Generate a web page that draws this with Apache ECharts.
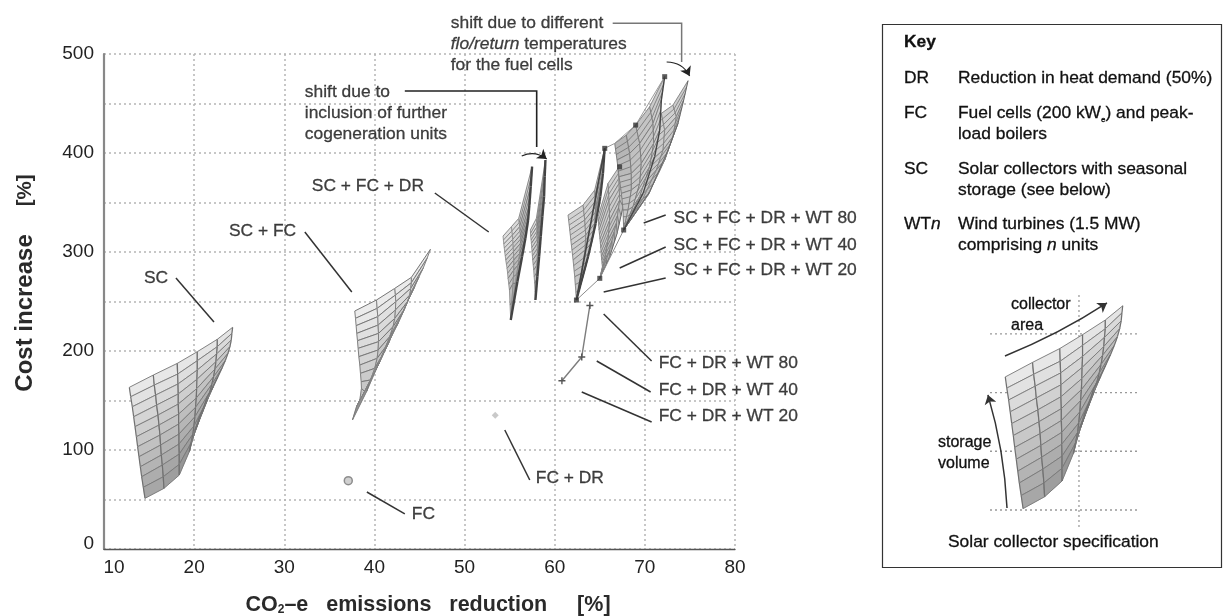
<!DOCTYPE html>
<html><head><meta charset="utf-8">
<style>html,body{margin:0;padding:0;background:#fff}#c{width:1223px;height:616px;filter:blur(0.45px)}</style>
<script src="https://cdn.jsdelivr.net/npm/echarts@6/dist/echarts.min.js"></script>
</head><body><div id="c"></div>
<script>
// Axis ticks
const xTicks = {min:10,max:80,step:10};
const yTicks = {min:0,max:500,step:50};

// Single scenarios
const fcPoint = [[37.1,69]];
const fcDrPoint = [[53.4,135]];
const fcDrWtPoints = [[60.8,170],[63.0,194],[63.9,246]];

// Surfaces: columns of [CO2 reduction, cost increase] nodes
const scSurface = [
 [[12.81,163.3],[12.96,153.8],[13.14,143.7],[13.29,133.6],[13.44,123.6],[13.59,113.4],[13.73,103.3],[13.88,93.2],[14.03,83.1],[14.18,73],[14.36,62.3],[14.55,51.2]],
 [[15.47,175.7],[15.58,165.6],[15.73,155.5],[15.84,145.4],[15.99,135.3],[16.1,125.2],[16.21,115.1],[16.28,105],[16.36,94.9],[16.47,84.8],[16.58,73],[16.65,61.3]],
 [[18.13,187.5],[18.17,176.7],[18.21,166.7],[18.24,156.6],[18.24,146.4],[18.28,136.3],[18.28,126.2],[18.32,116.1],[18.32,106],[18.35,95.9],[18.35,85.5],[18.35,74.7]],
 [[20.35,199.3],[20.35,190.2],[20.35,180.8],[20.31,171.4],[20.28,161.9],[20.24,152.5],[20.16,143.1],[20.09,133.6],[19.98,124.2],[19.87,116.1],[19.68,107.4],[19.46,98.3]],
 [[22.57,211.8],[22.57,204.4],[22.49,197],[22.42,189.2],[22.31,181.8],[22.16,174],[21.98,166.6],[21.75,158.9],[21.46,150.5],[21.01,140.4],[20.57,130.3],[20.13,120.2]],
 [[24.27,223.9],[24.19,217.8],[24.12,211.1],[23.97,204.4],[23.75,197.6],[23.45,190.2],[23.08,182.5],[22.64,174],[22.12,163.9],[21.46,153.8],[21.01,142],[20.46,130.3]]
];
const scFcSurface = [
 [[37.82,240.4],[37.9,233],[37.97,225.6],[38.04,217.8],[38.12,210.4],[38.19,202.7],[38.27,194.3],[38.38,185.8],[38.45,177.4],[38.53,169],[38.56,162.3],[38.38,150.5]],
 [[40.23,251.5],[40.3,243.1],[40.37,234.7],[40.41,226.2],[40.45,217.8],[40.45,209.4],[40.41,201],[40.3,192.6],[40.04,182.5],[39.56,170.7],[38.93,158.9],[38.38,150.5]],
 [[42.26,263.3],[42.33,256.5],[42.37,249.8],[42.33,241.4],[42.26,233],[42.07,224.6],[41.7,214.5],[41.26,204.4],[40.78,194.3],[40.04,179.1],[39.12,162.3],[38.19,147.1]],
 [[44.1,274.4],[44.1,269],[44.03,263.3],[43.92,256.5],[43.66,249.8],[43.26,241.4],[42.81,233],[42.26,222.9],[41.63,209.4],[40.59,189.2],[39.49,169],[38.01,143.7]],
 [[46.21,302.7],[45.84,293.6],[45.4,283.5],[44.96,275.1],[44.47,265],[43.92,254.9],[43.37,243.1],[42.63,227.9],[41.7,211.1],[40.41,185.8],[39.12,158.9],[37.56,130.3]]
];
const scFcDrSurfaceA = [
 [[54.27,316.1],[54.35,308.1],[54.46,300],[54.57,291.9],[54.72,283.5],[54.83,273.4],[54.98,261.6],[55.12,231.3]],
 [[55.2,325.6],[55.31,317.1],[55.38,308.7],[55.42,300.3],[55.46,291.9],[55.46,281.8],[55.38,268.3],[55.12,231.3]],
 [[56.01,334],[56.12,325.6],[56.2,317.1],[56.2,308.7],[56.12,298.6],[55.94,286.8],[55.64,268.3],[55.12,231.3]],
 [[57.49,386.2],[57.34,366],[57.19,347.4],[57.05,332.3],[56.75,313.8],[56.38,295.3],[55.86,270],[55.12,231.3]]
];
const scFcDrSurfaceB = [
 [[57.3,322.2],[57.34,315.5],[57.42,308.7],[57.49,300.3],[57.56,291.9],[57.67,281.8],[57.78,268.3],[57.86,251.5]],
 [[57.97,334],[58.04,325.6],[58.04,317.1],[58.08,308.7],[58.08,298.6],[58.04,286.8],[57.97,271.7],[57.86,251.5]],
 [[58.97,392.9],[58.89,376.1],[58.82,355.9],[58.63,335.7],[58.45,315.5],[58.27,295.3],[58.08,275],[57.86,251.5]]
];
const wt20Surface = [
 [[61.48,337.3],[61.67,322.2],[61.85,307],[62.04,291.9],[62.22,275],[62.41,251.5]],
 [[63.15,347.4],[63.33,332.3],[63.44,317.1],[63.37,302],[62.96,278.4],[62.41,251.5]],
 [[64.44,362.6],[64.55,345.8],[64.44,328.9],[64.07,308.7],[63.33,281.8],[62.41,251.5]],
 [[65.55,404.7],[65.36,379.4],[65.07,355.9],[64.55,328.9],[63.7,295.3],[62.41,251.5]]
];
const wt40Surface = [
 [[64.81,335.6],[64.92,322.2],[65.07,308.7],[65.18,295.3],[65.29,285.1],[65,273.4]],
 [[65.92,369.3],[66.03,352.5],[66.1,332.3],[65.92,312.1],[65.55,291.9],[65,273.4]],
 [[67.03,384.5],[67.14,369.3],[67.21,352.5],[66.84,328.9],[66.1,302],[65,273.4]],
 [[67.21,386.2],[67.65,369.3],[67.58,345.8],[66.92,318.8],[66.1,295.3],[65,273.4]]
];
const wt80SurfaceA = [
 [[66.66,409.7],[66.91,392.9],[67.14,376],[67.4,359.2],[67.58,342.4],[67.65,322.2]],
 [[67.95,418.1],[68.32,399.6],[68.5,379.4],[68.5,362.6],[68.13,342.4],[67.65,322.2]],
 [[68.98,428.2],[69.43,409.7],[69.61,389.5],[69.43,369.3],[68.69,345.8],[67.65,322.2]],
 [[70.54,446.8],[70.91,429.9],[70.98,409.7],[70.54,386.2],[69.43,355.9],[67.65,322.2]],
 [[72.2,477.1],[71.83,453.5],[71.65,423.2],[71.09,396.3],[69.8,359.2],[67.65,322.2]]
];
const wt80SurfaceB = [
 [[67.03,411.4],[67.4,392.9],[67.58,374.4],[67.76,355.9],[67.76,339],[67.65,322.2]],
 [[69.8,424.9],[69.98,406.4],[69.98,386.2],[69.61,366],[68.76,344.1],[67.65,322.2]],
 [[71.83,440],[72.2,423.2],[72.02,403],[71.28,382.8],[69.8,354.2],[67.65,322.2]],
 [[73.12,448.4],[73.49,436.7],[73.12,416.5],[72.2,392.9],[70.35,357.5],[67.65,322.2]],
 [[74.79,473],[74.31,453.5],[73.68,430],[72.57,403],[70.54,360.9],[67.65,322.2]]
];
const wtChainLower = [[62.41,251.5],[65,273.4],[67.65,322.2]];
const wtChainUpper = [[65.55,404.7],[66.66,409.7],[68.98,428.2],[72.2,477.1]];
const wtChainEdge = [[62.41,251.5],[65.55,404.7]];
const wtNodes = [[62.41,251.5],[65,273.4],[67.65,322.2],[65.55,404.7],[68.98,428.2],[72.2,477.1],[67.2,386]];

// Text labels anchored in the plot: [x, y, text]
const plotLabels = [
 [14.43,273.7,'SC'],[23.86,321.2,'SC + FC'],[33.06,366.7,'SC + FC + DR'],[44.15,35.4,'FC'],[57.9,71.7,'FC + DR'],
 [71.53,187.9,'FC + DR + WT 80'],[71.53,160.6,'FC + DR + WT 40'],[71.53,134.3,'FC + DR + WT 20'],
 [73.19,334.3,'SC + FC + DR + WT 80'],[73.19,307.1,'SC + FC + DR + WT 40'],[73.19,281.8,'SC + FC + DR + WT 20'],
 [48.47,510,'shift due to different\n{i|flo/return} temperatures\nfor the fuel cells'],
 [32.28,440.4,'shift due to\ninclusion of further\ncogeneration units']
];
// Leader lines
const leaders = [
 [[17.98,273.7],[22.2,229.3]],[[32.28,320.2],[37.49,259.6]],[[46.7,359.6],[52.68,320.2]],[[39.16,57.6],[43.37,35.4]],
 [[54.46,120.2],[57.23,69.7]],[[65.43,237.4],[70.75,189.9]],[[64.66,189.9],[70.64,158.6]],[[63,158.6],[70.75,128.3]],
 [[69.87,329.3],[72.31,337.4]],[[67.21,283.8],[72.31,305.1]],[[65.43,259.6],[72.31,273.7]]
];
const shiftElbowFlow = [[66.43,531],[74.08,531],[74.08,491.9]];
const shiftElbowCogen = [[43.37,462.6],[58,462.6],[58,406.1]];
const shiftArcs = [[[72.42,491.9],[74.97,477.8]],[[56.34,397],[59.11,393.9]]];

// Key panel
const keyRows = [
 ['DR','Reduction in heat demand (50%)',78],
 ['FC','Fuel cells (200 kW{s|e}) and peak-\nload boilers',124],
 ['SC','Solar collectors with seasonal\nstorage (see below)',180],
 ['WT{i|n}','Wind turbines (1.5 MW)\ncomprising {i|n} units',235]
];
const insetGuideY = [50,100,150,200];
const insetGuideX = [20];
const insetArrows = [[[12.78,181.2],[22.73,226.3]],[[12.98,51.7],[11.12,148]]];

const font = '"Liberation Sans", Arial, sans-serif';
const mid = '#111';
const lab = 17.4;

function cells(cols, tone){
  const out=[];
  for(let c=0;c<cols.length-1;c++){
    for(let r=0;r<cols[c].length-1;r++){
      const a=cols[c][r],b=cols[c+1][r],d=cols[c+1][r+1],e=cols[c][r+1];
      const rf=(r+0.5)/(cols[c].length-1), cf=(c+0.5)/(cols.length-1);
      const g=Math.round(tone.base-tone.row*rf-tone.fold*cf*rf-tone.col*cf);
      out.push([a[0],a[1],b[0],b[1],d[0],d[1],e[0],e[1],g,c,r,cols.length-2,cols[c].length-2]);
    }
  }
  return out;
}
function surface(cols,tone,axis){
  const hatch=tone.hatch||0;
  return {type:'custom',xAxisIndex:axis,yAxisIndex:axis,silent:true,clip:false,z:tone.z||3,
    data:cells(cols,tone),
    encode:{x:0,y:1},
    renderItem:function(params,api){
      const P=[0,2,4,6].map(i=>api.coord([api.value(i),api.value(i+1)]));
      const g=api.value(8),c=api.value(9),lastC=api.value(11);
      const kids=[{type:'polygon',shape:{points:P},style:{fill:`rgb(${g},${g},${g})`,stroke:`rgb(${g},${g},${g})`,lineWidth:.5}}];
      for(let k=1;k<=hatch;k++){
        const t=k/(hatch+1);
        kids.push({type:'line',shape:{x1:P[0][0]+(P[3][0]-P[0][0])*t,y1:P[0][1]+(P[3][1]-P[0][1])*t,x2:P[1][0]+(P[2][0]-P[1][0])*t,y2:P[1][1]+(P[2][1]-P[1][1])*t},style:{stroke:tone.line,lineWidth:tone.rowW}});
      }
      kids.push({type:'line',shape:{x1:P[0][0],y1:P[0][1],x2:P[1][0],y2:P[1][1]},style:{stroke:tone.line,lineWidth:tone.rowW}});
      kids.push({type:'line',shape:{x1:P[3][0],y1:P[3][1],x2:P[2][0],y2:P[2][1]},style:{stroke:tone.line,lineWidth:tone.rowW}});
      kids.push({type:'line',shape:{x1:P[0][0],y1:P[0][1],x2:P[3][0],y2:P[3][1]},style:{stroke:tone.col0,lineWidth:tone.colW}});
      kids.push({type:'line',shape:{x1:P[1][0],y1:P[1][1],x2:P[2][0],y2:P[2][1]},style:{stroke:c===lastC&&tone.spine?tone.spine:tone.col0,lineWidth:c===lastC&&tone.spine?tone.spineW:tone.colW}});
      return {type:'group',children:kids};
    }};
}
const toneSC={base:236,row:68,fold:40,col:4,line:'#777',rowW:.9,colW:1.2,col0:'#707070'};
const toneSCFC={base:238,row:36,fold:70,col:0,line:'#777',rowW:1,colW:1,col0:'#808080'};
const toneDR={base:226,row:28,fold:50,col:10,line:'#666',rowW:.7,colW:.8,hatch:1,spine:'#444',spineW:2.4,col0:'#888'};
const toneWT={base:214,row:14,fold:26,col:6,line:'#6a6a6a',rowW:.7,colW:.8,hatch:2,spine:'#666',spineW:1,col0:'#7a7a7a'};
const toneWTDark={base:176,row:-24,fold:14,col:-30,line:'#666',rowW:.7,colW:.8,hatch:2,spine:'#444',spineW:1.4,col0:'#707070'};

function lineS(data,color,w,axis,opts){
  return Object.assign({type:'line',data:data,xAxisIndex:axis||0,yAxisIndex:axis||0,showSymbol:false,symbol:'none',silent:true,z:4,
    lineStyle:{color:color,width:w},clip:false},opts||{});
}
const series=[];
[[scSurface,toneSC],[scFcSurface,toneSCFC],[scFcDrSurfaceA,toneDR],[scFcDrSurfaceB,toneDR],[wt20Surface,Object.assign({},toneWT,{spine:'#444',spineW:2.2})],[wt40Surface,toneWT],[wt80SurfaceB,toneWT],[wt80SurfaceA,toneWTDark]]
 .forEach(s=>series.push(surface(s[0],s[1],0)));
series.push(surface(scSurface,toneSC,1));
series.push(lineS(wtChainLower,'#8c8c8c',1));
series.push(lineS(wtChainUpper,'#9a9a9a',1));
series.push(lineS(wtChainEdge,'#444',1.6));
series.push({type:'scatter',data:wtNodes,symbol:'rect',symbolSize:5,itemStyle:{color:'#333'},silent:true,z:5});
series.push({type:'scatter',data:fcPoint,symbol:'circle',symbolSize:8,itemStyle:{color:'#c4c4c4',borderColor:'#777',borderWidth:1.5},silent:true,z:5});
series.push({type:'scatter',data:fcDrPoint,symbol:'diamond',symbolSize:7,itemStyle:{color:'#bbb'},silent:true,z:5});
series.push(lineS(fcDrWtPoints,'#7d7d7d',1.4,0,{showSymbol:true,symbol:'path://M4 0H6V4H10V6H6V10H4V6H0V4H4Z',symbolSize:7,itemStyle:{color:'#555'}}));
series.push({type:'scatter',data:plotLabels.map(l=>({value:[l[0],l[1]],labelText:l[2]})),symbolSize:0,silent:true,z:7,clip:false,
  label:{show:true,position:'right',distance:0,fontFamily:font,fontSize:lab,color:mid,lineHeight:21,align:'left',textBorderColor:mid,textBorderWidth:.3,
    formatter:p=>p.data.labelText,rich:{i:{fontStyle:'italic',fontFamily:font,fontSize:lab,color:mid,textBorderColor:mid,textBorderWidth:.3}}}});
series.push({type:'lines',coordinateSystem:'cartesian2d',polyline:false,silent:true,z:6,clip:false,
  data:leaders.map(l=>({coords:l})),lineStyle:{color:'#333',width:1.5,opacity:1}});
series.push({type:'lines',coordinateSystem:'cartesian2d',polyline:true,silent:true,z:6,clip:false,data:[{coords:shiftElbowFlow}],lineStyle:{color:'#777',width:1.5,opacity:1}});
series.push({type:'lines',coordinateSystem:'cartesian2d',polyline:true,silent:true,z:6,clip:false,data:[{coords:shiftElbowCogen}],lineStyle:{color:'#222',width:1.6,opacity:1}});
series.push({type:'lines',coordinateSystem:'cartesian2d',silent:true,z:6,clip:false,symbol:['none','arrow'],symbolSize:9,
  data:shiftArcs.map(l=>({coords:l})),lineStyle:{color:'#222',width:1.2,opacity:1,curveness:0.3}});
// inset
insetGuideY.forEach(v=>series.push(lineS([[11.32,v],[25.66,v]],'#999',1.3,1,{lineStyle:{color:'#999',width:1.3,type:[2,3]},z:2})));
insetGuideX.forEach(v=>series.push(lineS([[v,35.5],[v,234.8]],'#aaa',1.5,1,{lineStyle:{color:'#aaa',width:1.5,type:[2,3]},z:2})));
series.push({type:'lines',coordinateSystem:'cartesian2d',xAxisIndex:1,yAxisIndex:1,silent:true,z:6,clip:false,symbol:['none','arrow'],symbolSize:9,
  data:[{coords:insetArrows[0],lineStyle:{curveness:-0.05}},{coords:insetArrows[1],lineStyle:{curveness:-0.06}}],lineStyle:{color:'#333',width:1.5,opacity:1}});

const keyGraphics=[{type:'rect',shape:{x:882.5,y:24.5,width:339,height:543},style:{fill:'none',stroke:'#333',lineWidth:1.2},silent:true,z:0}];
function t(x,y,text,extra){keyGraphics.push({type:'text',x:x,y:y,silent:true,z:9,style:Object.assign({text:text,fontFamily:font,fontSize:lab,fill:mid,stroke:mid,lineWidth:.3,verticalAlign:'middle',lineHeight:21,
  rich:{i:{fontStyle:'italic',fontFamily:font,fontSize:lab,fill:mid},s:{fontSize:8,fontFamily:font,fill:mid,verticalAlign:'bottom'}}},extra||{})});}
t(904,42,'Key',{fontWeight:'bold'});
keyRows.forEach(r=>{const two=r[1].indexOf('\n')>=0;t(904,two?r[2]-11:r[2],r[0]);t(958,r[2],r[1]);});
t(948,542,'Solar collector specification');
t(1011,315,'collector\narea',{fontSize:16});
t(938,453,'storage\nvolume',{fontSize:16});

const titleB={fontFamily:font,fontWeight:'bold',color:'#2a2a2a'};
const option={
  backgroundColor:'#fff',animation:false,
  grid:[{left:104,right:488,top:54,bottom:67,outerBoundsMode:'none'},{left:990,right:86,top:293,bottom:89,outerBoundsMode:'none'}],
  xAxis:[{type:'value',min:xTicks.min,max:xTicks.max,interval:xTicks.step,
    name:'{b|CO}{s|2}{b|–e   emissions   reduction     [%]}',nameLocation:'middle',nameGap:45,
    nameTextStyle:{padding:[0,0,0,17],rich:{b:Object.assign({fontSize:21.5},titleB),s:Object.assign({fontSize:12,verticalAlign:'bottom',padding:[10,0,0,0]},titleB)}},
    axisLine:{show:true,lineStyle:{color:'#555',width:1.4}},axisTick:{show:false},
    axisLabel:{margin:9,fontFamily:font,fontSize:19,color:'#222',formatter:v=>v===10?'{f|10}':String(v),rich:{f:{fontFamily:font,fontSize:19,color:'#222',padding:[0,0,0,20]}}},
    splitLine:{show:true,lineStyle:{color:'#b5b5b5',width:1.5,type:[2,3]}}},
   {gridIndex:1,type:'value',min:11.32,max:25.66,show:false,splitLine:{show:false}}],
  yAxis:[{type:'value',min:yTicks.min,max:yTicks.max,interval:yTicks.step,
    name:'{a|Cost increase}{g|}{b|[%]}',nameLocation:'middle',nameGap:67,
    nameTextStyle:{padding:[0,0,0,37],rich:{a:Object.assign({fontSize:24},titleB),b:Object.assign({fontSize:20.5},titleB),g:{width:28}}},
    axisLine:{show:true,lineStyle:{color:'#888',width:2.2}},axisTick:{show:false},
    axisLabel:{margin:10,fontFamily:font,fontSize:19,color:'#222',formatter:v=>v%100===0?(v===0?'{z|0}':String(v)):'',rich:{z:{fontFamily:font,fontSize:19,color:'#222',padding:[0,0,10,0]}}},
    splitLine:{show:true,lineStyle:{color:'#b5b5b5',width:1.5,type:[2,3]}}},
   {gridIndex:1,type:'value',min:35.5,max:234.8,show:false,splitLine:{show:false}}],
  graphic:keyGraphics,
  series:series
};
const chart=echarts.init(document.getElementById('c'),null,{renderer:'canvas'});
chart.setOption(option);
</script></body></html>
